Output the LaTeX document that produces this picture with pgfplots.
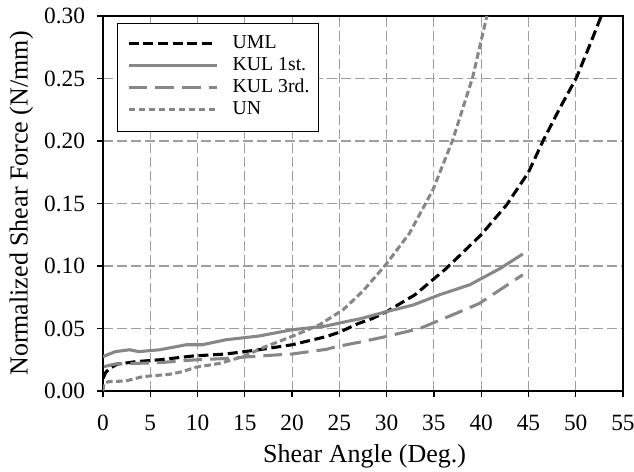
\documentclass[border=0pt]{standalone}
\usepackage{pgfplots}
\pgfplotsset{compat=1.18}
\usepackage{fontspec}
\setmainfont{Liberation Serif}

\definecolor{sergray}{HTML}{878787}
\definecolor{gridgray}{HTML}{9E9E9E}

\begin{document}
\begin{tikzpicture}
\begin{axis}[
    scale only axis,
    width=390pt, height=281.25pt,
    xmin=0, xmax=55, ymin=0, ymax=0.30,
    xtick={0,5,10,15,20,25,30,35,40,45,50,55},
    ytick={0,0.05,0.10,0.15,0.20,0.25,0.30},
    xtick pos=left, ytick pos=left,
    tick align=outside,
    major tick length=4.5pt,
    tick style={black, line width=1pt},
    axis line style={black, line width=1.4pt},
    grid=major,
    major grid style={gridgray, line width=0.8pt, dash pattern=on 7.5pt off 3pt},
    /pgf/number format/assume math mode=true,
    ticklabel style={font=\fontsize{17.5}{20}\selectfont},
    xticklabel style={yshift=-10pt},
    yticklabel style={xshift=-5.5pt, /pgf/number format/fixed,
        /pgf/number format/fixed zerofill, /pgf/number format/precision=2},
    scaled y ticks=false,
    xlabel={Shear Angle (Deg.)},
    ylabel={Normalized Shear Force (N/mm)},
    every axis x label/.style={at={(axis description cs:0.503,-0.173)}, anchor=center,
        font=\fontsize{19.5}{22}\selectfont},
    every axis y label/.style={at={(axis description cs:-0.157,0.5)}, rotate=90, anchor=center,
        font=\fontsize{19.5}{22}\selectfont},
    legend image code/.code={\draw[#1] (0pt,0.33em) -- (66pt,0.33em);},
    legend style={
        at={(axis description cs:0,1)}, anchor=north west,
        xshift=10.5pt, yshift=-5.25pt,
        draw=black, line width=1pt, fill=white,
        font=\fontsize{14.8}{17}\selectfont,
        inner xsep=7pt, inner ysep=7.5pt,
        row sep=0pt, column sep=11pt,
        nodes={inner sep=0pt, anchor=base west, text height=11pt, text depth=5.5pt},
    },
    legend cell align=left,
]
\coordinate (SW) at (rel axis cs:0,0);
\coordinate (NE) at (rel axis cs:1,1);

% UML
\addplot[black, line width=2.3pt, dash pattern=on 7.5pt off 3.5pt, line join=round] coordinates {
    (0,0.010) (0.3,0.015) (0.7,0.018) (1.5,0.0215) (3.5,0.0235) (6,0.025)
    (9.5,0.028) (13,0.0296) (16.5,0.033) (20,0.037) (23.6,0.0435) (25,0.047)
    (27,0.054) (28.5,0.058) (30,0.0635) (33,0.077) (36.3,0.098) (40,0.125)
    (42.7,0.149) (45,0.175) (46.6,0.201) (48.3,0.226) (50.1,0.251)
    (51.5,0.277) (52.7,0.30)
};
\addlegendentry{UML}

% KUL 1st.
\addplot[sergray, line width=2.3pt, line join=round] coordinates {
    (0,0.0275) (1.3,0.0315) (2.8,0.033) (3.8,0.0315) (6,0.033) (8.8,0.037)
    (10.5,0.037) (13,0.041) (16.5,0.044) (20,0.049) (23.6,0.052)
    (25.7,0.0555) (27.1,0.0576) (30,0.0635) (32.8,0.0688) (35.6,0.077)
    (38.8,0.085) (42,0.098) (44.4,0.1096)
};
\addlegendentry{KUL 1st.}

% KUL 3rd.
\addplot[sergray, line width=2.3pt, dash pattern=on 14pt off 6pt, line join=round] coordinates {
    (0.1,0.0195) (1.3,0.0216) (6,0.0227) (9.5,0.0248) (13,0.026)
    (16.5,0.028) (20,0.0296) (23.6,0.0333) (24.7,0.0355) (27.1,0.039)
    (29.9,0.0435) (33.5,0.050) (37,0.061) (39.8,0.070) (44.4,0.093)
};
\addlegendentry{KUL 3rd.}

% UN
\addplot[sergray, line width=2.3pt, dash pattern=on 5pt off 2.5pt, line join=round] coordinates {
    (0,0) (0.1,0.006) (0.6,0.0075) (2.4,0.008) (4.2,0.0115) (7,0.0133)
    (8.4,0.0155) (9.8,0.019) (12.3,0.022) (14.8,0.0275) (17.2,0.0355)
    (20.1,0.044) (22.9,0.053) (25.4,0.065) (27.5,0.080) (29.9,0.101)
    (32.4,0.126) (34.9,0.161) (37,0.201) (39.1,0.251) (40.6,0.30)
};
\addlegendentry{UN}
\end{axis}
\pgfresetboundingbox
\path ([xshift=-77.25pt,yshift=-60pt]SW) rectangle ([xshift=8.25pt,yshift=12pt]NE);
\end{tikzpicture}
\end{document}
